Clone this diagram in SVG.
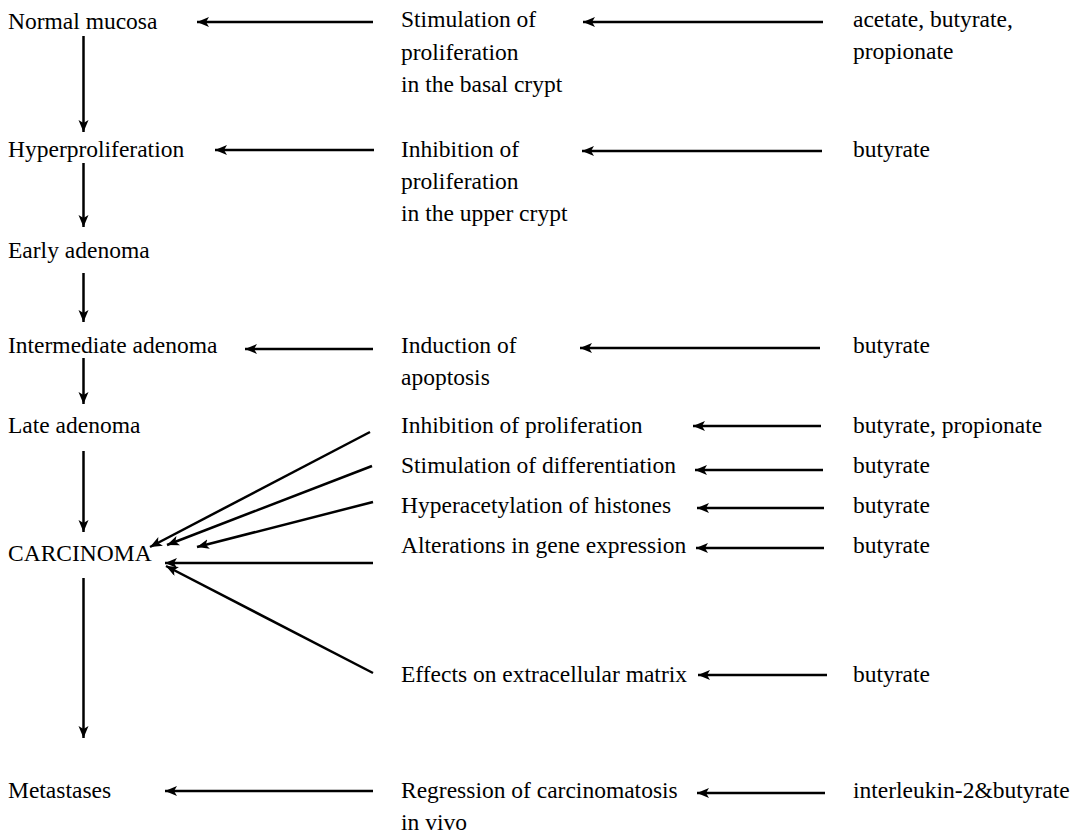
<svg xmlns="http://www.w3.org/2000/svg" width="1075" height="833" viewBox="0 0 1075 833">
<style>
.c line{stroke:#000;stroke-width:2.5;marker-end:url(#ah)}
</style>
<defs>
<marker id="ah" markerUnits="userSpaceOnUse" markerWidth="16" markerHeight="12" refX="12" refY="5" orient="auto">
<path d="M0,0 L12,5 L0,10 L3,5 z" fill="#000"/>
</marker>
</defs>
<rect width="1075" height="833" fill="#fff"/>
<g font-family="Liberation Serif" font-size="23.5" fill="#000">
<g id="n-normal"><text x="8" y="29">Normal mucosa</text></g>
<g id="n-hyper"><text x="8" y="157">Hyperproliferation</text></g>
<g id="n-early"><text x="8" y="258">Early adenoma</text></g>
<g id="n-inter"><text x="8" y="353">Intermediate adenoma</text></g>
<g id="n-late"><text x="8" y="433">Late adenoma</text></g>
<g id="n-carc"><text x="8" y="561">CARCINOMA</text></g>
<g id="n-meta"><text x="8" y="798">Metastases</text></g>
<g id="m-stim"><text x="401" y="27">Stimulation of</text><text x="401" y="60">proliferation</text><text x="401" y="92">in the basal crypt</text></g>
<g id="m-inhib"><text x="401" y="157">Inhibition of</text><text x="401" y="189">proliferation</text><text x="401" y="221">in the upper crypt</text></g>
<g id="m-induc"><text x="401" y="353">Induction of</text><text x="401" y="385">apoptosis</text></g>
<g id="m-inhib2"><text x="401" y="433">Inhibition of proliferation</text></g>
<g id="m-diff"><text x="401" y="473">Stimulation of differentiation</text></g>
<g id="m-hyperac"><text x="401" y="513">Hyperacetylation of histones</text></g>
<g id="m-alter"><text x="401" y="553">Alterations in gene expression</text></g>
<g id="m-ecm"><text x="401" y="682">Effects on extracellular matrix</text></g>
<g id="m-regr"><text x="401" y="798">Regression of carcinomatosis</text><text x="401" y="830">in vivo</text></g>
<g id="r-1"><text x="853" y="27">acetate, butyrate,</text><text x="853" y="59">propionate</text></g>
<g id="r-2"><text x="853" y="157">butyrate</text></g>
<g id="r-3"><text x="853" y="353">butyrate</text></g>
<g id="r-4"><text x="853" y="433">butyrate, propionate</text></g>
<g id="r-5"><text x="853" y="473">butyrate</text></g>
<g id="r-6"><text x="853" y="513">butyrate</text></g>
<g id="r-7"><text x="853" y="553">butyrate</text></g>
<g id="r-8"><text x="853" y="682">butyrate</text></g>
<g id="r-9"><text x="853" y="798">interleukin-2&amp;butyrate</text></g>
</g>
<g id="connectors" class="c">
<line x1="83.5" y1="36" x2="83.5" y2="132"/>
<line x1="83.5" y1="163" x2="83.5" y2="227"/>
<line x1="83.5" y1="273" x2="83.5" y2="322"/>
<line x1="83.5" y1="358" x2="83.5" y2="404"/>
<line x1="83.5" y1="451" x2="83.5" y2="532"/>
<line x1="83.5" y1="578" x2="83.5" y2="738"/>
<line x1="373" y1="22" x2="197" y2="22"/>
<line x1="374" y1="150" x2="215" y2="150"/>
<line x1="373" y1="349" x2="245" y2="349"/>
<line x1="373" y1="791" x2="165" y2="791"/>
<line x1="823" y1="22" x2="583" y2="22"/>
<line x1="822" y1="151" x2="582" y2="151"/>
<line x1="820" y1="348" x2="580" y2="348"/>
<line x1="821" y1="426" x2="693" y2="426"/>
<line x1="823" y1="470" x2="695" y2="470"/>
<line x1="824" y1="508" x2="697" y2="508"/>
<line x1="824" y1="548" x2="696" y2="548"/>
<line x1="827" y1="675" x2="698" y2="675"/>
<line x1="825" y1="793" x2="697" y2="793"/>
<line x1="370" y1="432" x2="150" y2="547"/>
<line x1="372" y1="466" x2="167" y2="545"/>
<line x1="373" y1="502" x2="197" y2="547"/>
<line x1="373" y1="563" x2="165" y2="563"/>
<line x1="373" y1="673" x2="166" y2="566"/>
</g>
</svg>
